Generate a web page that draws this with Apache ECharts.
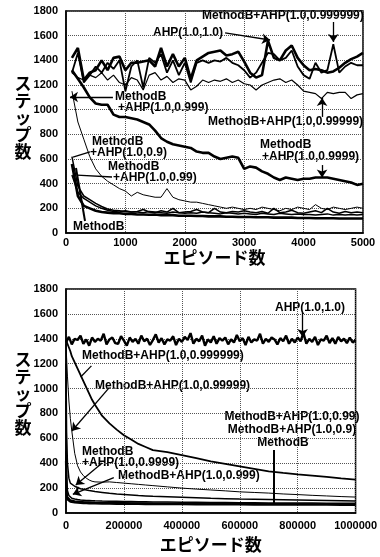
<!DOCTYPE html>
<html>
<head>
<meta charset="utf-8">
<script src="https://cdn.jsdelivr.net/npm/echarts/dist/echarts.min.js"></script>
<style>
  html, body { margin: 0; padding: 0; background: #fff; }
  #chart { width: 380px; height: 557px; }
</style>
</head>
<body>
<div id="chart"></div>
<script>
// ---- top chart: 0..5000 episodes, one sample every 100 episodes
const topEpisodes = []
for (let e = 100; e <= 5000; e += 100) topEpisodes.push(e)

const topAHP = [1420,1500,1240,1300,1320,1400,1320,1420,1430,1320, 1380,1380,1390,1400,1350,1500,1350,1450,1350,1420,
  1250,1400,1430,1460,1470,1480,1440,1450,1470,1390, 1300,1260,1280,1560,1420,1400,1480,1520,1420,1360,
  1320,1330,1320,1300,1310,1340,1380,1410,1430,1460]
const topB999999 = [1300,1460,1220,1280,1350,1300,1380,1330,1400,1150, 1350,1400,1180,1420,1380,1450,1300,1400,1280,1380,
  1220,1380,1400,1380,1400,1390,1420,1380,1360,1320, 1260,1300,1380,1460,1450,1400,1420,1480,1350,1280,
  1250,1380,1300,1320,1530,1300,1350,1380,1360,1360]
const topB99999 = [1300,1260,1240,1280,1260,1300,1240,1280,1220,1200, 1260,1240,1160,1280,1300,1240,1270,1220,1250,1240,
  1160,1190,1240,1220,1240,1230,1250,1220,1240,1210, 1200,1160,1200,1220,1240,1250,1220,1240,1200,1150,
  1140,1130,1090,1140,1130,1140,1140,1090,1120,1130]
const topB9999 = [1320,1250,1180,1100,1050,1040,1040,960,940,940, 930,920,900,880,830,770,740,720,710,700,
  690,660,650,650,620,600,610,620,610,520, 540,530,500,480,450,430,450,440,430,440,
  440,450,450,450,440,430,420,410,390,400]
const topB999 = [1150,900,760,620,520,460,420,390,360,340, 300,330,310,300,290,290,360,290,270,260,
  250,250,240,230,220,210,200,210,200,190, 200,190,210,200,190,180,200,190,210,200,
  190,230,200,190,210,200,190,200,210,200]
const topB99 = [470,330,280,250,220,200,185,175,170,180, 170,175,190,170,165,180,170,200,165,170,
  175,190,170,165,200,170,165,175,170,180, 170,165,175,160,200,165,170,185,165,160,
  170,180,165,200,170,160,175,165,170,165]
const topB9 = [620,380,300,270,240,215,195,185,180,175, 170,170,165,175,170,165,160,170,165,160,
  165,160,170,165,160,155,165,160,155,160, 155,150,160,155,150,160,155,150,155,150,
  150,145,150,155,145,150,145,150,145,150]
const topMethodB = [560,300,220,200,180,170,165,160,160,155, 155,150,150,148,150,145,145,145,140,140,
  140,138,138,135,135,135,132,132,130,130, 130,128,128,128,125,125,125,125,122,122,
  122,120,120,120,120,118,118,118,118,118]

// ---- bottom chart: 0..1000000 episodes
const botNoiseEpisodes = []
for (let e = 0; e <= 1000000; e += 10000) botNoiseEpisodes.push(e)
const botAHP = [1370,1415,1355,1400,1390,1425,1360,1395,1345,1410,
  1375,1400,1385,1440,1355,1395,1410,1365,1360,1420,
  1385,1345,1410,1375,1400,1360,1425,1380,1400,1350,
  1390,1435,1370,1405,1355,1395,1385,1420,1350,1400,
  1375,1415,1390,1445,1360,1400,1380,1425,1345,1395,
  1370,1420,1360,1405,1385,1410,1355,1395,1370,1430,
  1380,1405,1350,1415,1370,1395,1385,1440,1360,1400,
  1375,1410,1395,1355,1405,1380,1425,1360,1400,1370,
  1410,1380,1445,1360,1400,1375,1415,1350,1395,1385,
  1425,1365,1405,1360,1415,1380,1400,1365,1410,1370,1390]

const botEpisodes = [0,2000,5000,10000,15000,20000,30000,40000,50000,60000,70000,80000,90000,100000,
  125000,150000,175000,200000,225000,250000,275000,300000,350000,400000,450000,500000,550000,600000,
  650000,700000,750000,800000,850000,900000,950000,1000000]
const botB999999 = [1390,1380,1360,1330,1300,1260,1210,1160,1110,1060,1010,960,910,870,
  780,720,670,625,590,555,530,505,490,465,440,415,395,375,355,335,322,310,300,290,278,268]
const botB99999 = [1360,1250,1100,900,760,660,480,380,330,300,280,265,255,250,
  248,250,245,240,235,230,225,220,210,200,192,185,178,170,165,160,153,148,142,137,132,128]
const botB9999 = [1200,650,400,280,240,225,215,205,195,190,185,180,176,172,
  165,158,152,148,144,140,137,134,130,126,122,118,115,112,110,108,106,104,102,100,98,96]
const botB999 = [900,300,180,140,125,118,112,108,105,103,101,100,99,98,
  96,95,94,93,92,91,90,89,88,87,86,85,84,83,82,81,81,80,80,79,79,78]
const botB99 = [500,180,130,115,105,100,96,94,92,90,89,88,87,86,
  85,84,83,82,81,80,80,79,78,77,77,76,76,75,75,74,74,73,73,73,72,72]
const botB9 = [450,160,120,105,98,94,91,89,87,86,85,84,83,82,
  81,80,79,78,78,77,77,76,75,75,74,74,73,73,72,72,71,71,71,70,70,70]
const botMethodB = [420,140,110,98,92,88,85,83,82,80,79,78,77,77,
  76,75,74,74,73,73,72,72,71,71,70,70,69,69,68,68,68,67,67,67,66,66]

const NUM_FONT = 'Liberation Sans'
const JP_FONT = 'Noto Sans CJK JP'

function pairs (xs, ys) { return xs.map((x, i) => [x, ys[i]]) }

function lineSeries (name, g, xs, ys, width) {
  return {
    name: name, type: 'line', xAxisIndex: g, yAxisIndex: g,
    data: pairs(xs, ys), symbol: 'none', showSymbol: false,
    lineStyle: { color: '#000', width: width }, silent: true
  }
}

// arrow / leader lines in data coordinates
function leader (from, to, arrow, width) {
  return [
    { coord: from, symbol: 'none' },
    { coord: to, symbol: arrow ? 'arrow' : 'none', lineStyle: { color: '#000', width: width || 1.3, type: 'solid' } }
  ]
}

function annotationSeries (g, lines) {
  return {
    type: 'line', xAxisIndex: g, yAxisIndex: g, data: [], silent: true,
    markLine: {
      silent: true, animation: false, symbolSize: 8,
      label: { show: false },
      lineStyle: { color: '#000', width: 1.3, type: 'solid' },
      data: lines
    }
  }
}

const plain = v => String(v)

function xAxisOf (g, max, interval, labelMargin, nameGap) {
  return {
    type: 'value', gridIndex: g, min: 0, max: max, interval: interval,
    name: 'エピソード数', nameLocation: 'middle', nameGap: nameGap,
    nameTextStyle: { fontFamily: JP_FONT, fontWeight: 'bold', fontSize: 17, color: '#000' },
    axisLine: { show: true, onZero: false, lineStyle: { color: '#000', width: 1.5 } },
    axisTick: { show: false },
    axisLabel: { color: '#000', fontFamily: NUM_FONT, fontWeight: 'bold', fontSize: 11, margin: labelMargin,
      showMinLabel: true, showMaxLabel: true, formatter: plain },
    splitLine: { show: true, lineStyle: { color: '#555', type: 'dotted', width: 1 } }
  }
}

function yAxisOf (g) {
  return {
    type: 'value', gridIndex: g, min: 0, max: 1800, interval: 200,
    axisLine: { show: true, onZero: false, lineStyle: { color: '#000', width: 1.5 } },
    axisTick: { show: false },
    axisLabel: { color: '#000', fontFamily: NUM_FONT, fontWeight: 'bold', fontSize: 11, margin: 8, formatter: plain },
    splitLine: { show: true, lineStyle: { color: '#555', type: 'dotted', width: 1 } }
  }
}

function txt (text, x, y, align) {
  return {
    type: 'text', x: x, y: y, silent: true,
    style: { text: text, fill: '#000', font: 'bold 12px "Liberation Sans"',
      textAlign: align || 'left', textVerticalAlign: 'middle' }
  }
}

function yTitle (cy) {
  return {
    type: 'text', x: 23, y: cy, silent: true,
    style: { text: 'ス\nテ\nッ\nプ\n数', fill: '#000', font: 'bold 17px "Noto Sans CJK JP"',
      lineHeight: 17, textAlign: 'center', textVerticalAlign: 'middle' }
  }
}

const chart = echarts.init(document.getElementById('chart'), null, { renderer: 'canvas' })

const option = {
  animation: false,
  backgroundColor: '#fff',
  grid: [
    { left: 66, top: 11, width: 297, height: 222, show: true, borderColor: '#000', borderWidth: 1.5 },
    { left: 66, top: 289, width: 296, height: 224, show: true, borderColor: '#000', borderWidth: 1.5 }
  ],
  xAxis: [xAxisOf(0, 5000, 1000, 4, 13), xAxisOf(1, 1000000, 200000, 7, 23)],
  yAxis: [yAxisOf(0), yAxisOf(1)],
  series: [
    lineSeries('AHP(1.0,1.0)', 0, topEpisodes, topAHP, 2.6),
    lineSeries('MethodB+AHP(1.0,0.999999)', 0, topEpisodes, topB999999, 1.8),
    lineSeries('MethodB+AHP(1.0,0.99999)', 0, topEpisodes, topB99999, 1.2),
    lineSeries('MethodB+AHP(1.0,0.9999)', 0, topEpisodes, topB9999, 2.6),
    lineSeries('MethodB+AHP(1.0,0.999)', 0, topEpisodes, topB999, 1),
    lineSeries('MethodB+AHP(1.0,0.99)', 0, topEpisodes, topB99, 1.5),
    lineSeries('MethodB+AHP(1.0,0.9)', 0, topEpisodes, topB9, 1.5),
    lineSeries('MethodB', 0, topEpisodes, topMethodB, 2.6),
    annotationSeries(0, [
      leader([4500, 1711], [4500, 1549], true),
      leader([2678, 1622], [3435, 1565], true),
      leader([790, 1103], [67, 1103], true),
      leader([4311, 941], [4311, 1095], true),
      leader([4311, 551], [4311, 450], true),
      leader([404, 657], [118, 616], false),
      leader([775, 454], [185, 470], false),
      leader([320, 97], [168, 527], false, 2)
    ]),

    lineSeries('AHP(1.0,1.0)', 1, botNoiseEpisodes, botAHP, 2.4),
    lineSeries('MethodB+AHP(1.0,0.999999)', 1, botEpisodes, botB999999, 1.8),
    lineSeries('MethodB+AHP(1.0,0.99999)', 1, botEpisodes, botB99999, 1),
    lineSeries('MethodB+AHP(1.0,0.9999)', 1, botEpisodes, botB9999, 1.5),
    lineSeries('MethodB+AHP(1.0,0.999)', 1, botEpisodes, botB999, 1.5),
    lineSeries('MethodB+AHP(1.0,0.99)', 1, botEpisodes, botB99, 1.5),
    lineSeries('MethodB+AHP(1.0,0.9)', 1, botEpisodes, botB9, 1.5),
    lineSeries('MethodB', 1, botEpisodes, botMethodB, 2.2),
    annotationSeries(1, [
      leader([817000, 1608], [817000, 1415], true),
      leader([87800, 1182], [50700, 1093], false),
      leader([148600, 1005], [20300, 659], true),
      leader([125000, 402], [33800, 225], true),
      leader([165000, 285], [23600, 150], true),
      leader([716000, 507], [716000, 64], false, 2)
    ])
  ],
  graphic: [
    yTitle(118),
    yTitle(394),
    // top chart labels
    txt('MethodB+AHP(1.0,0.999999)', 202, 16),
    txt('AHP(1.0,1.0)', 153, 33),
    txt('MethodB', 115, 97),
    txt('+AHP(1.0,0.999)', 118, 108),
    txt('MethodB+AHP(1.0,0.99999)', 208, 122),
    txt('MethodB', 260, 145),
    txt('+AHP(1.0,0.9999)', 262, 157),
    txt('MethodB', 92, 142),
    txt('+AHP(1.0,0.9)', 90, 153),
    txt('MethodB', 108, 167),
    txt('+AHP(1.0,0.99)', 113, 178),
    txt('MethodB', 73, 227),
    // bottom chart labels
    txt('AHP(1.0,1.0)', 275, 308),
    txt('MethodB+AHP(1.0,0.999999)', 82, 356),
    txt('MethodB+AHP(1.0,0.99999)', 95, 386),
    txt('MethodB', 82, 452),
    txt('+AHP(1.0,0.9999)', 82, 463),
    txt('MethodB+AHP(1.0,0.999)', 118, 476),
    txt('MethodB+AHP(1.0,0.99)', 292, 417, 'center'),
    txt('MethodB+AHP(1.0,0.9)', 292, 430, 'center'),
    txt('MethodB', 283, 443, 'center')
  ]
}

chart.setOption(option)
</script>
</body>
</html>
